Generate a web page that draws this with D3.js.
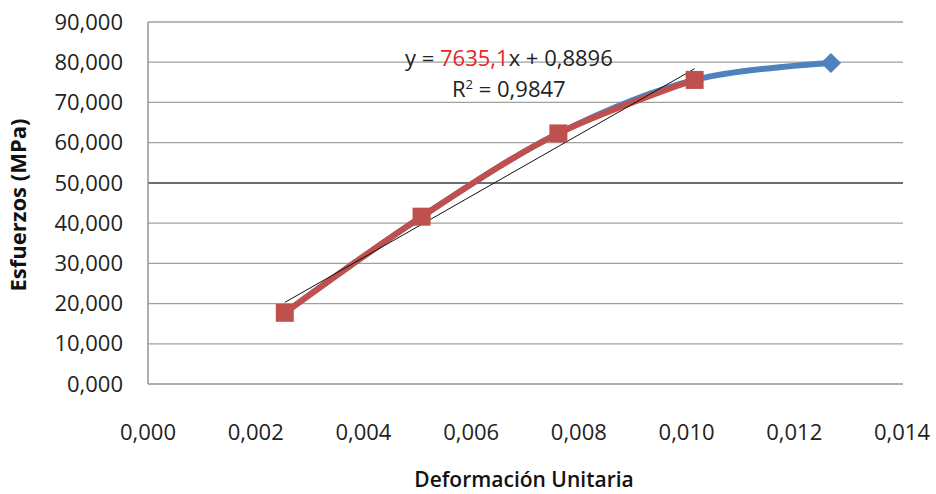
<!DOCTYPE html>
<style>
    body { margin: 0; background: #fff; font-family: 'Open Sans', sans-serif; }
</style>
<svg width="936" height="494"></svg>
<script src="https://d3js.org/d3.v7.min.js"></script>
<script>
    // data
    var deformacion = [0.00254, 0.00508, 0.00762, 0.01015, 0.01268];
    var esfuerzo = [17.7, 41.6, 62.3, 75.6, 79.8];
    var nElastic = 4;               // red series = first 4 points
    var trendSlope = 7635.1, trendIntercept = 0.8896;
    var xTicks = [0, 0.002, 0.004, 0.006, 0.008, 0.010, 0.012, 0.014];
    var yTicks = [0, 10, 20, 30, 40, 50, 60, 70, 80, 90];

    var svg = d3.select("svg"),
        margin = {top: 22, right: 33, bottom: 110, left: 148},
        width = +svg.attr("width") - margin.left - margin.right,
        height = +svg.attr("height") - margin.top - margin.bottom,
        g = svg.append("g").attr("transform", "translate(" + margin.left + "," + margin.top + ")");

    var x = d3.scaleLinear().domain([0, 0.014]).range([0, 754]);
    var y = d3.scaleLinear().domain([0, 90]).range([362, 0]);

    var fmt = function(d, dec) { return d.toFixed(dec).replace(".", ","); };

    // gridlines
    g.append("g").selectAll("line")
        .data(yTicks.filter(function(d) { return d > 0; }))
        .enter().append("line")
        .attr("x1", 0).attr("x2", width)
        .attr("y1", function(d) { return y(d); })
        .attr("y2", function(d) { return y(d); })
        .attr("stroke", function(d) { return d == 50 ? "#6e6e6e" : "#a0a0a0"; })
        .attr("stroke-width", function(d) { return d == 50 ? 2 : 1.3; });

    // axes lines
    g.append("line").attr("x1", 0).attr("x2", width).attr("y1", y(0)).attr("y2", y(0))
        .attr("stroke", "#959595").attr("stroke-width", 1.5);
    g.append("line").attr("x1", 0).attr("x2", 0).attr("y1", 0).attr("y2", y(0))
        .attr("stroke", "#959595").attr("stroke-width", 1.5);

    // tick labels
    g.append("g").selectAll("text")
        .data(yTicks).enter().append("text")
        .attr("x", -25).attr("y", function(d) { return y(d); })
        .attr("dy", "0.35em")
        .attr("text-anchor", "end")
        .attr("font-size", 22)
        .attr("fill", "#222")
        .text(function(d) { return fmt(d, 3); });

    g.append("g").selectAll("text")
        .data(xTicks).enter().append("text")
        .attr("x", function(d) { return x(d); }).attr("y", y(0) + 48)
        .attr("dy", "0.35em")
        .attr("text-anchor", "middle")
        .attr("font-size", 22)
        .attr("fill", "#222")
        .text(function(d) { return fmt(d, 3); });

    // axis titles
    svg.append("text")
        .attr("transform", "translate(26," + (margin.top + 183) + ") rotate(-90)")
        .attr("text-anchor", "middle")
        .attr("font-size", 22)
        .attr("font-weight", "bold")
        .attr("fill", "#111")
        .text("Esfuerzos (MPa)");

    svg.append("text")
        .attr("x", 524).attr("y", 480)
        .attr("dy", "0.35em")
        .attr("text-anchor", "middle")
        .attr("font-size", 21)
        .attr("font-weight", 600)
        .attr("fill", "#111")
        .text("Deformación Unitaria");

    var pts = deformacion.map(function(d, i) { return [d, esfuerzo[i]]; });
    var line = d3.line()
        .x(function(d) { return x(d[0]); })
        .y(function(d) { return y(d[1]); })
        .curve(d3.curveCatmullRom.alpha(0.5));

    // blue series (all points)
    g.append("path").datum(pts)
        .attr("d", line).attr("fill", "none")
        .attr("stroke", "#4F81BD").attr("stroke-width", 6);

    // red series (elastic range)
    var red = pts.slice(0, nElastic);
    g.append("path").datum(red)
        .attr("d", line).attr("fill", "none")
        .attr("stroke", "#C0504D").attr("stroke-width", 6);

    // linear trendline
    var x0 = deformacion[0], x1 = deformacion[nElastic - 1];
    g.append("line")
        .attr("x1", x(x0)).attr("y1", y(trendSlope * x0 + trendIntercept))
        .attr("x2", x(x1)).attr("y2", y(trendSlope * x1 + trendIntercept))
        .attr("stroke", "#111").attr("stroke-width", 1);

    // blue diamond for last point
    g.append("path")
        .attr("d", d3.symbol().type(d3.symbolDiamond2).size(260)())
        .attr("transform", "translate(" + x(deformacion[4]) + "," + y(esfuerzo[4]) + ")")
        .attr("fill", "#4F81BD");

    // red squares
    g.append("g").selectAll("rect")
        .data(red).enter().append("rect")
        .attr("x", function(d) { return x(d[0]) - 9; })
        .attr("y", function(d) { return y(d[1]) - 9; })
        .attr("width", 18).attr("height", 18)
        .attr("fill", "#C0504D");

    // equation label
    var eq = svg.append("text")
        .attr("x", 405).attr("y", 58)
        .attr("dy", "0.35em")
        .attr("font-size", 22)
        .attr("fill", "#222");
    eq.append("tspan").text("y = ");
    eq.append("tspan").attr("fill", "#e8262a").text(fmt(trendSlope, 1));
    eq.append("tspan").text("x + " + fmt(trendIntercept, 4));

    var r2 = svg.append("text")
        .attr("x", 452).attr("y", 89)
        .attr("dy", "0.35em")
        .attr("font-size", 22)
        .attr("fill", "#222");
    r2.append("tspan").text("R");
    r2.append("tspan").attr("font-size", 13).attr("dy", -8).text("2");
    r2.append("tspan").attr("dy", 8).text(" = 0,9847");
</script>
